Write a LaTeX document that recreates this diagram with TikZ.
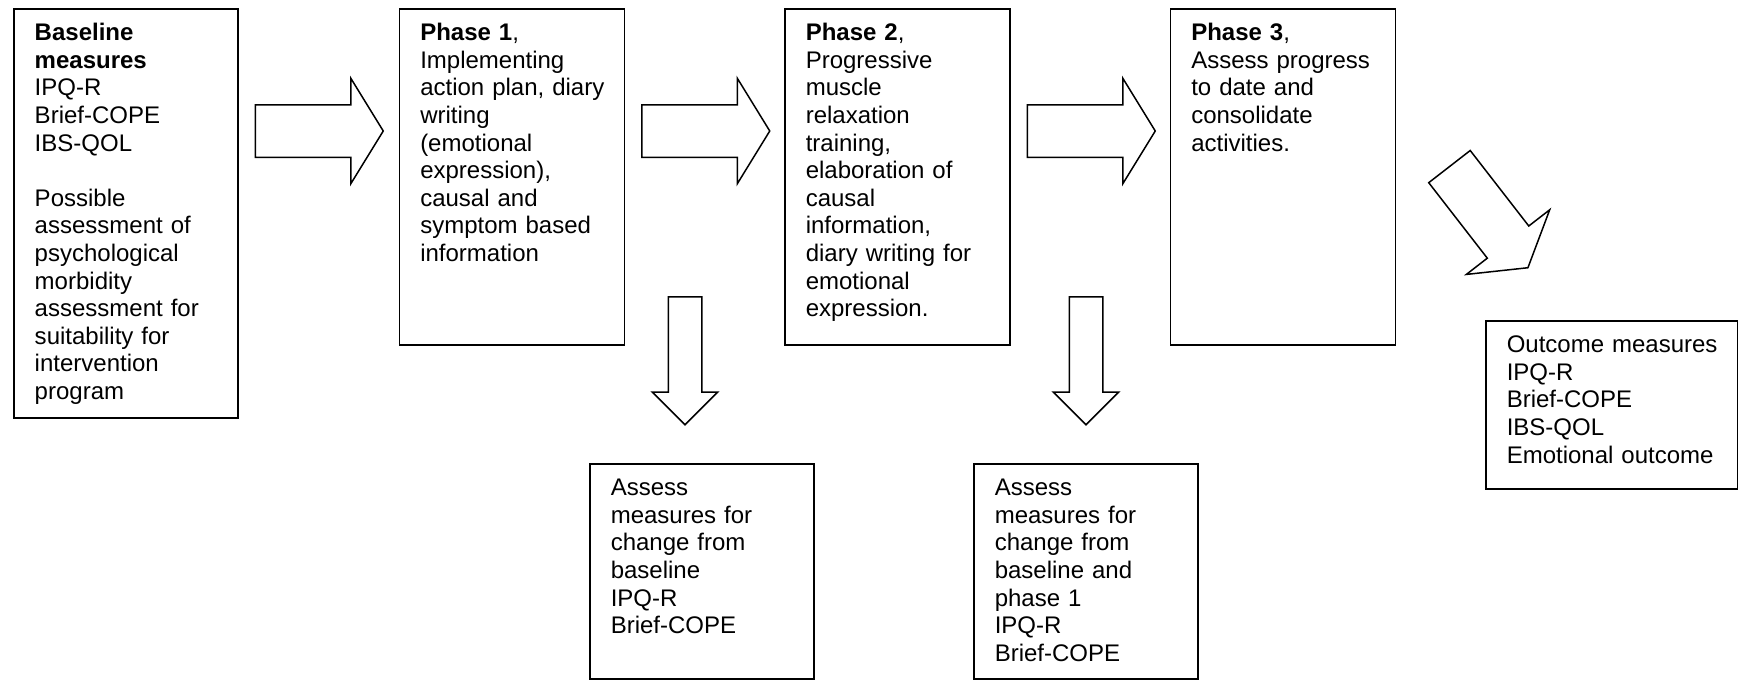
\documentclass[tikz,border=0pt]{standalone}
\usepackage{fontspec}
\setmainfont{Liberation Sans}
\usetikzlibrary{positioning, shapes.arrows, calc}
\hyphenpenalty=10000
\exhyphenpenalty=10000

\begin{document}
\begin{tikzpicture}[
        x=0.5pt, y=-0.5pt,
        stagebox/.style={draw, line width=0.75pt, anchor=north west, align=left,
            inner xsep=10.5pt, inner ysep=0pt, text height=16pt,
            font=\fontsize{12pt}{13.8pt}\selectfont},
        basebox/.style={stagebox, text width=91pt, text depth=188.5pt},
        phasebox/.style={stagebox, text width=91.5pt, text depth=152pt},
        assessbox/.style={stagebox, text width=91pt, text depth=91.5pt},
        outbox/.style={stagebox, text width=105pt, text depth=68pt},
        fatarrow/.style={single arrow, draw, line width=0.75pt, inner xsep=0pt,
            inner ysep=12.75pt, single arrow head extend=13.25pt,
            single arrow tip angle=116.8, minimum height=64pt, minimum width=1pt,
            anchor=tail},
        thinarrow/.style={single arrow, draw, line width=0.75pt, inner xsep=0pt,
            inner ysep=8pt, single arrow head extend=8pt,
            single arrow tip angle=90, minimum height=64pt, minimum width=1pt,
            anchor=tail, rotate=-90},
    ]
    \useasboundingbox (0,0) rectangle (1738,680);

        % Baseline
        \node[basebox] (baseline) at (13,8)
            {\textbf{Baseline}\\ \textbf{measures}\\ IPQ-R\\ Brief-COPE\\ IBS-QOL\\[13.8pt]
             Possible\\ assessment of\\ psychological\\ morbidity\\ assessment for\\
             suitability for\\ intervention\\ program};

        % Phases
        \node[phasebox, right=80pt of baseline.north east, anchor=north west] (phaseone)
            {\textbf{Phase 1},\\ Implementing\\ action~plan,~diary\\ writing\\ (emotional\\
             expression),\\ causal and\\ symptom based\\ information};
        \node[phasebox, right=79.5pt of phaseone.north east, anchor=north west] (phasetwo)
            {\textbf{Phase 2},\\ Progressive\\ muscle\\ relaxation\\ training,\\
             elaboration of\\ causal\\ information,\\ diary writing for\\ emotional\\ expression.};
        \node[phasebox, right=79.5pt of phasetwo.north east, anchor=north west] (phasethree)
            {\textbf{Phase 3},\\ Assess progress\\ to date and\\ consolidate\\ activities.};

        % Assessments
        \node[assessbox] (assessone) at (589,463)
            {Assess\\ measures for\\ change from\\ baseline\\ IPQ-R\\ Brief-COPE};
        \node[assessbox] (assesstwo) at (973,463)
            {Assess\\ measures for\\ change from\\ baseline and\\ phase 1\\ IPQ-R\\ Brief-COPE};

        % Outcome
        \node[outbox] (outcome) at (1485,320)
            {Outcome~measures\\ IPQ-R\\ Brief-COPE\\ IBS-QOL\\ Emotional~outcome};

        % Arrows
        \node[fatarrow] (toone) at ($(baseline.north east)+(16,123)$) {};
        \node[fatarrow] (totwo) at ($(phaseone.north east)+(16,123)$) {};
        \node[fatarrow] (tothree) at ($(phasetwo.north east)+(16,123)$) {};
        \node[fatarrow, rotate=-52.2] (tooutcome) at (1449,166) {};
        \node[thinarrow] (downone) at (685,296) {};
        \node[thinarrow] (downtwo) at (1086,296) {};

\end{tikzpicture}
\end{document}
